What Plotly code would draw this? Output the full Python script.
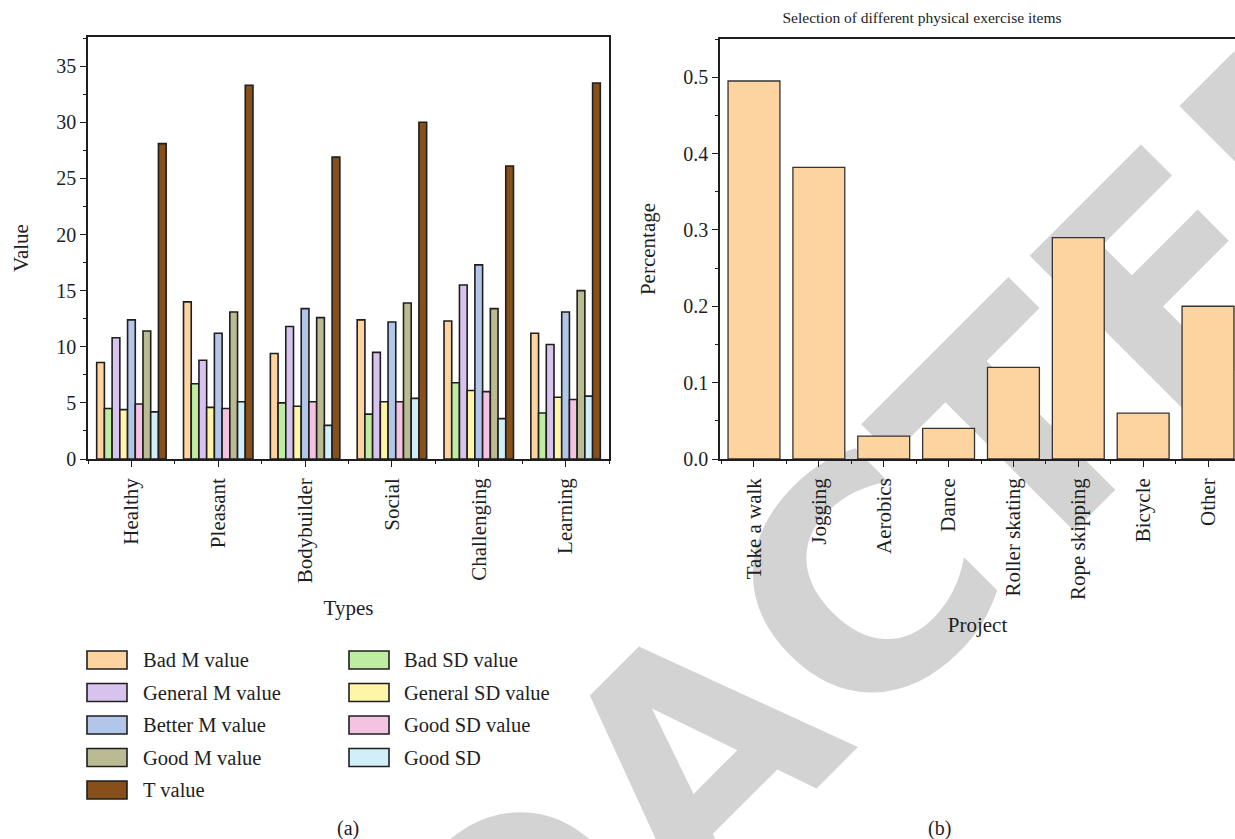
import base64
import plotly.graph_objects as go

# ---------------- data ----------------
types = ["Healthy", "Pleasant", "Bodybuilder", "Social", "Challenging", "Learning"]

bad_m = [8.6, 14.0, 9.4, 12.4, 12.3, 11.2]
bad_sd = [4.5, 6.7, 5.0, 4.0, 6.8, 4.1]
general_m = [10.8, 8.8, 11.8, 9.5, 15.5, 10.2]
general_sd = [4.4, 4.6, 4.7, 5.1, 6.1, 5.5]
better_m = [12.4, 11.2, 13.4, 12.2, 17.3, 13.1]
good_sd_value = [4.9, 4.5, 5.1, 5.1, 6.0, 5.3]
good_m = [11.4, 13.1, 12.6, 13.9, 13.4, 15.0]
good_sd = [4.2, 5.1, 3.0, 5.4, 3.6, 5.6]
t_value = [28.1, 33.3, 26.9, 30.0, 26.1, 33.5]

projects = ["Take a walk", "Jogging", "Aerobics", "Dance", "Roller skating",
            "Rope skipping", "Bicycle", "Other"]
percentage = [0.495, 0.382, 0.03, 0.04, 0.12, 0.29, 0.06, 0.20]

# bar order inside each group (as drawn)
series = [
    ("Bad M value", bad_m, "#FDD39F"),
    ("Bad SD value", bad_sd, "#BEEDA1"),
    ("General M value", general_m, "#D8C3EE"),
    ("General SD value", general_sd, "#FFF5A8"),
    ("Better M value", better_m, "#B1C6E8"),
    ("Good SD value", good_sd_value, "#F5C3E2"),
    ("Good M value", good_m, "#BBBB92"),
    ("Good SD", good_sd, "#D0EFF8"),
    ("T value", t_value, "#87501A"),
]
legend_col1 = ["Bad M value", "General M value", "Better M value", "Good M value", "T value"]
legend_col2 = ["Bad SD value", "General SD value", "Good SD value", "Good SD"]

# ---------------- layout constants ----------------
W, H = 1235, 839
FONT = "Liberation Serif"
INK = "#1e1e1e"


def px(x):
    return x / W


def py(y):
    return 1 - y / H


fig = go.Figure()

xs = list(range(len(types)))
for name, vals, col in series:
    fig.add_trace(go.Bar(
        x=xs, y=vals, name=name, showlegend=False,
        marker=dict(color=col, line=dict(color=INK, width=1.6)),
        xaxis="x", yaxis="y",
    ))

fig.add_trace(go.Bar(
    x=list(range(len(projects))), y=percentage, name="Percentage", showlegend=False,
    marker=dict(color="#FDD39F", line=dict(color="#333333", width=1.3)),
    xaxis="x2", yaxis="y2",
))

axis_common = dict(
    automargin=False,
    showgrid=False, zeroline=False, showline=True, linecolor=INK, linewidth=1.5,
    ticks="outside", ticklen=6, tickwidth=1.2, tickcolor=INK,
    tickfont=dict(family=FONT, size=20, color=INK),
    title_font=dict(family=FONT, size=21, color=INK),
)
xtickfont = dict(family=FONT, size=21, color=INK)

fig.update_layout(
    width=W, height=H, margin=dict(l=0, r=0, t=0, b=0, pad=0, autoexpand=False),
    paper_bgcolor="white", plot_bgcolor="rgba(0,0,0,0)",
    barmode="group", bargap=0.2, bargroupgap=0,
    showlegend=False,
    font=dict(family=FONT, color=INK),
    xaxis=dict(
        axis_common, domain=[px(88), px(609)], anchor="y", range=[-0.5, len(types) - 0.5],
        tickmode="array", tickvals=xs, ticktext=types, tickangle=-90, mirror=True,
        tickfont=xtickfont, ticklabelstandoff=3,
        minor=dict(tickvals=[i - 0.5 for i in range(len(types) + 1)], ticks="outside",
                   ticklen=3, tickcolor=INK, tickwidth=1.2),
        title=dict(text="Types", standoff=18),
    ),
    yaxis=dict(
        axis_common, domain=[py(459), py(37)], anchor="x", range=[0, 37.6],
        tickmode="linear", tick0=0, dtick=5, mirror=True,
        minor=dict(dtick=2.5, ticks="outside", ticklen=3, tickcolor=INK, tickwidth=1.2),
        title=dict(text="Value", standoff=22),
    ),
    xaxis2=dict(
        axis_common, domain=[px(720), 1.0], anchor="y2", range=[-0.524, 7.416],
        tickmode="array", tickvals=list(range(len(projects))), ticktext=projects,
        tickangle=-90, mirror=True, tickfont=xtickfont, ticklabelstandoff=3,
        minor=dict(tickvals=[i - 0.5 for i in range(len(projects) + 1)], ticks="outside",
                   ticklen=3, tickcolor=INK, tickwidth=1.2),
        title=dict(text="Project", standoff=18),
    ),
    yaxis2=dict(
        axis_common, domain=[py(459), py(39)], anchor="x2", range=[0, 0.55],
        tickmode="linear", tick0=0, dtick=0.1, tickformat=".1f",
        minor=dict(dtick=0.05, ticks="outside", ticklen=3, tickcolor=INK, tickwidth=1.2),
        title=dict(text="Percentage", standoff=22),
    ),
    title=dict(text="Selection of different physical exercise items",
               font=dict(family=FONT, size=15.5, color=INK),
               xref="paper", x=px(922), xanchor="center",
               yref="container", y=py(18), yanchor="middle"),
)

# ---------------- legend (two columns, drawn as in the original) ----------------
color_of = {n: c for n, _, c in series}
shapes = []
annotations = []
row_y = [660, 692.5, 725, 757.5, 790]
for col_names, sx, tx in ((legend_col1, 87, 141), (legend_col2, 349, 402)):
    for i, name in enumerate(col_names):
        yc = row_y[i]
        shapes.append(dict(type="rect", xref="paper", yref="paper",
                           x0=px(sx), x1=px(sx + 40), y0=py(yc + 9), y1=py(yc - 9),
                           fillcolor=color_of[name], line=dict(color=INK, width=1.6)))
        annotations.append(dict(text=name, xref="paper", yref="paper",
                                x=px(tx), y=py(yc), xanchor="left", yanchor="middle",
                                showarrow=False, font=dict(family=FONT, size=20.5, color=INK)))

annotations.append(dict(text="(a)", xref="paper", yref="paper", x=px(348), y=py(828),
                        xanchor="center", yanchor="middle", showarrow=False,
                        font=dict(family=FONT, size=20, color=INK)))
annotations.append(dict(text="(b)", xref="paper", yref="paper", x=px(939), y=py(828),
                        xanchor="center", yanchor="middle", showarrow=False,
                        font=dict(family=FONT, size=20, color=INK)))

fig.update_layout(shapes=shapes, annotations=annotations)

# ---------------- watermark (behind the plot) ----------------
svg = (
    f'<svg xmlns="http://www.w3.org/2000/svg" width="{W}" height="{H}" viewBox="0 0 {W} {H}">'
    f'<text x="0" y="0" text-anchor="middle" fill="#D3D3D3" '
    f'font-family="DejaVu Sans" font-weight="bold" font-size="310" '
    f'transform="translate(845,760) rotate(-45)">REDACTED</text></svg>'
)
src = "data:image/svg+xml;base64," + base64.b64encode(svg.encode()).decode()
fig.add_layout_image(dict(source=src, xref="paper", yref="paper", x=0, y=1,
                          sizex=1, sizey=1, xanchor="left", yanchor="top",
                          sizing="stretch", layer="below"))

fig.write_html("out.html")
